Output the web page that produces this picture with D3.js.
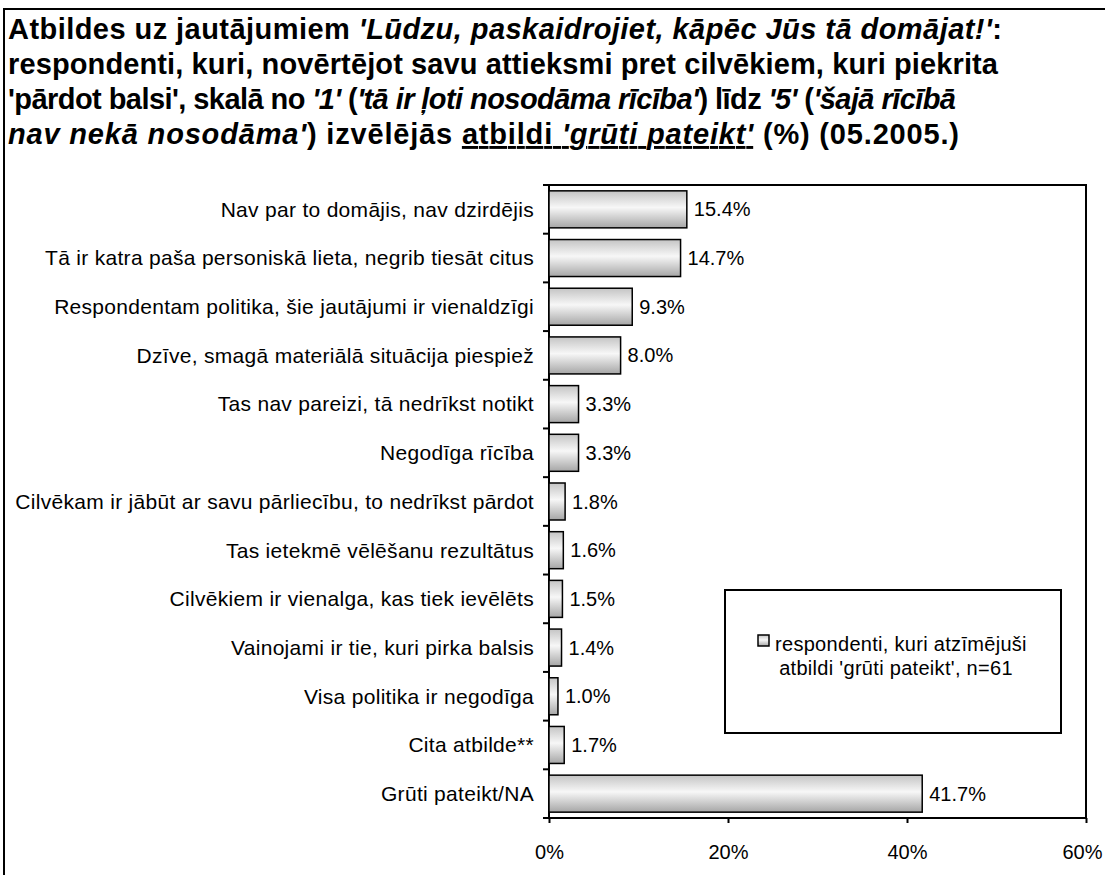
<!DOCTYPE html>
<html>
<head>
<meta charset="utf-8">
<script src="https://cdn.jsdelivr.net/npm/d3@7"></script>
<style>
  body { margin: 0; background: white; }
  text { font-family: Arial, "Liberation Sans", sans-serif; fill: black; }
</style>
</head>
<body>
<svg id="chart" width="1105" height="875"></svg>
<script>
// data
const categories = [
  "Nav par to domājis, nav dzirdējis",
  "Tā ir katra paša personiskā lieta, negrib tiesāt citus",
  "Respondentam politika, šie jautājumi ir vienaldzīgi",
  "Dzīve, smagā materiālā situācija piespiež",
  "Tas nav pareizi, tā nedrīkst notikt",
  "Negodīga rīcība",
  "Cilvēkam ir jābūt ar savu pārliecību, to nedrīkst pārdot",
  "Tas ietekmē vēlēšanu rezultātus",
  "Cilvēkiem ir vienalga, kas tiek ievēlēts",
  "Vainojami ir tie, kuri pirka balsis",
  "Visa politika ir negodīga",
  "Cita atbilde**",
  "Grūti pateikt/NA"
];
const values = [15.4, 14.7, 9.3, 8.0, 3.3, 3.3, 1.8, 1.6, 1.5, 1.4, 1.0, 1.7, 41.7];
const xTicks = [0, 20, 40, 60];
const legendLines = ["respondenti, kuri atzīmējuši", "atbildi 'grūti pateikt', n=61"];

// title pieces: [text, italic, underline]
const titleLines = [
  [["Atbildes uz jautājumiem ", 0, 0], ["'Lūdzu, paskaidrojiet, kāpēc Jūs tā domājat!'", 1, 0], [":", 0, 0]],
  [["respondenti, kuri, novērtējot savu attieksmi pret cilvēkiem, kuri piekrita", 0, 0]],
  [["'pārdot balsi', skalā no ", 0, 0], ["'1'", 1, 0], [" (", 0, 0], ["'tā ir ļoti nosodāma rīcība'", 1, 0],
   [") līdz ", 0, 0], ["'5'", 1, 0], [" (", 0, 0], ["'šajā rīcībā", 1, 0]],
  [["nav nekā nosodāma'", 1, 0], [") izvēlējās ", 0, 0], ["atbildi ", 0, 1], ["'grūti pateikt'", 1, 1],
   [" (%) (05.2005.)", 0, 0]]
];
const titleWidths = [994, 990, 948, 951];

const svg = d3.select("#chart");
const plot = { left: 549, right: 1086, top: 185, bottom: 818 };

// gradient for the bars
const grad = svg.append("defs").append("linearGradient")
  .attr("id", "barGrad")
  .attr("x1", 0).attr("y1", 0).attr("x2", 0).attr("y2", 1);
grad.append("stop").attr("offset", "0%").attr("stop-color", "#c4c4c4");
grad.append("stop").attr("offset", "45%").attr("stop-color", "#f7f7f7");
grad.append("stop").attr("offset", "100%").attr("stop-color", "#a6a6a6");

// outer frame
svg.append("rect")
  .attr("x", 4).attr("y", 9)
  .attr("width", 1120).attr("height", 900)
  .attr("fill", "white")
  .attr("stroke", "black")
  .attr("stroke-width", 2);

// title, one text per line so each line can be fitted to its width
titleLines.forEach(function(line, i) {
  const t = svg.append("text")
    .attr("x", 8)
    .attr("y", 39 + i * 35)
    .attr("textLength", titleWidths[i])
    .attr("lengthAdjust", "spacing")
    .style("font-size", "29px")
    .style("font-weight", "bold");
  line.forEach(function(p) {
    const s = t.append("tspan").text(p[0]);
    if (p[1]) s.style("font-style", "italic");
    if (p[2]) s.style("text-decoration", "underline");
  });
});

const x = d3.scaleLinear().domain([0, 60]).range([plot.left, plot.right]);
const y = d3.scaleBand()
  .domain(categories)
  .range([plot.top, plot.bottom])
  .paddingInner(0.24)
  .paddingOuter(0.12);

// plot border
svg.append("rect")
  .attr("x", plot.left).attr("y", plot.top)
  .attr("width", plot.right - plot.left)
  .attr("height", plot.bottom - plot.top)
  .attr("fill", "white")
  .attr("stroke", "black")
  .attr("stroke-width", 2);

// category ticks on the left (at band boundaries)
const step = y.step();
svg.append("g").selectAll("line")
  .data(d3.range(categories.length + 1))
  .join("line")
  .attr("x1", plot.left - 6).attr("x2", plot.left)
  .attr("y1", i => plot.top + i * step)
  .attr("y2", i => plot.top + i * step)
  .attr("stroke", "black")
  .attr("stroke-width", 2);

// x axis
const xAxis = d3.axisBottom(x)
  .tickValues(xTicks)
  .tickSize(5)
  .tickPadding(22)
  .tickFormat(d => d + "%");
const gx = svg.append("g")
  .attr("transform", "translate(0," + plot.bottom + ")")
  .call(xAxis);
gx.select(".domain").remove();
gx.selectAll(".tick line").attr("stroke", "black").attr("stroke-width", 2);
gx.selectAll(".tick text")
  .style("font-size", "20px")
  .style("font-family", "Arial, 'Liberation Sans', sans-serif")
  .attr("fill", "black")
  .attr("dx", d => d === 60 ? -4 : 0);

// bars
svg.append("g").selectAll("rect")
  .data(values)
  .join("rect")
  .attr("x", x(0))
  .attr("y", (d, i) => y(categories[i]))
  .attr("width", d => x(d) - x(0))
  .attr("height", y.bandwidth())
  .attr("fill", "url(#barGrad)")
  .attr("stroke", "black")
  .attr("stroke-width", 1.5);

// value labels
svg.append("g").selectAll("text")
  .data(values)
  .join("text")
  .attr("x", d => x(d) + 7)
  .attr("y", (d, i) => y(categories[i]) + y.bandwidth() / 2)
  .attr("dy", "0.35em")
  .style("font-size", "20px")
  .text(d => d.toFixed(1) + "%");

// category labels
svg.append("g").selectAll("text")
  .data(categories)
  .join("text")
  .attr("x", plot.left - 15)
  .attr("y", d => y(d) + y.bandwidth() / 2)
  .attr("dy", "0.35em")
  .attr("text-anchor", "end")
  .style("font-size", "21px")
  .style("letter-spacing", "0.3px")
  .text(d => d);

// legend
const legend = svg.append("g");
legend.append("rect")
  .attr("x", 725).attr("y", 590)
  .attr("width", 336).attr("height", 143)
  .attr("fill", "white")
  .attr("stroke", "black")
  .attr("stroke-width", 2);
legend.append("rect")
  .attr("x", 758).attr("y", 635)
  .attr("width", 11).attr("height", 11)
  .attr("fill", "url(#barGrad)")
  .attr("stroke", "black")
  .attr("stroke-width", 1.5);
legend.append("text")
  .attr("x", 775).attr("y", 651)
  .style("font-size", "20px")
  .style("letter-spacing", "0.3px")
  .text(legendLines[0]);
legend.append("text")
  .attr("x", 896).attr("y", 675)
  .attr("text-anchor", "middle")
  .style("font-size", "20px")
  .style("letter-spacing", "0.3px")
  .text(legendLines[1]);
</script>
</body>
</html>
